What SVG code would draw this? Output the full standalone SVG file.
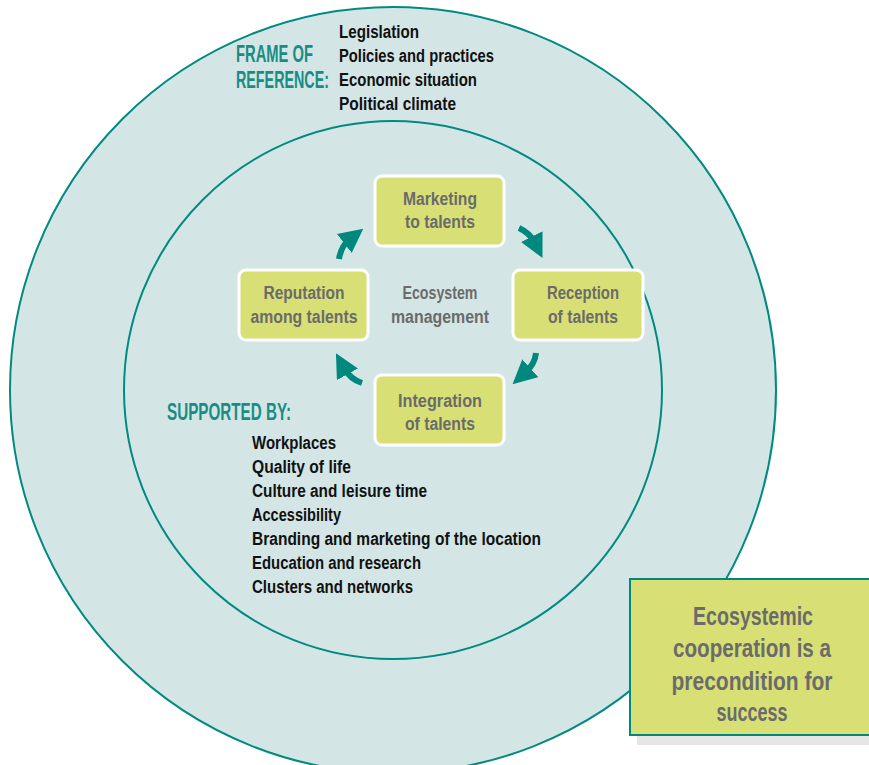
<svg xmlns="http://www.w3.org/2000/svg" width="869" height="765" viewBox="0 0 869 765">
  <defs>
    <style>
      .ring { fill: #d3e6e5; stroke: #008a80; stroke-width: 2; }
      .step rect { fill: #d8df74; stroke: #ffffff; stroke-width: 3; }
      .t { font-family: "Liberation Sans", Arial, sans-serif; font-weight: bold; }
      .grey { fill: #6b6b6b; font-size: 18px; text-anchor: middle; }
      .big { font-size: 25px; }
      .head { fill: #1b8c84; font-size: 23px; }
      .list { fill: #111111; font-size: 18px; }
      .flow { fill: none; stroke: #00877e; stroke-width: 6; marker-end: url(#tip); }
    </style>
    <marker id="tip" viewBox="0 0 10 10" refX="3" refY="5" markerWidth="4" markerHeight="4" markerUnits="strokeWidth" orient="auto">
      <path d="M0,0 L10,5 L0,10 Z" fill="#00877e"/>
    </marker>
  </defs>

  <!-- outer ring: frame of reference -->
  <g id="frame">
    <circle class="ring" cx="393" cy="390" r="383"/>
    <text class="t head" transform="translate(236,62) scale(0.64,1)" textLength="120.3" lengthAdjust="spacingAndGlyphs">FRAME OF</text>
    <text class="t head" transform="translate(236,88) scale(0.64,1)" textLength="145.3" lengthAdjust="spacingAndGlyphs">REFERENCE:</text>
    <text class="t list" x="339" y="38" textLength="80" lengthAdjust="spacingAndGlyphs">Legislation</text>
    <text class="t list" x="339" y="62" textLength="155" lengthAdjust="spacingAndGlyphs">Policies and practices</text>
    <text class="t list" x="339" y="86" textLength="138" lengthAdjust="spacingAndGlyphs">Economic situation</text>
    <text class="t list" x="339" y="110" textLength="117" lengthAdjust="spacingAndGlyphs">Political climate</text>
  </g>

  <!-- inner ring: supporting factors -->
  <g id="support">
    <circle class="ring" cx="393" cy="390" r="269"/>
    <text class="t head" transform="translate(167,420) scale(0.64,1)" textLength="193.7" lengthAdjust="spacingAndGlyphs">SUPPORTED BY:</text>
    <text class="t list" x="252" y="449" textLength="84" lengthAdjust="spacingAndGlyphs">Workplaces</text>
    <text class="t list" x="252" y="473" textLength="99" lengthAdjust="spacingAndGlyphs">Quality of life</text>
    <text class="t list" x="252" y="497" textLength="175" lengthAdjust="spacingAndGlyphs">Culture and leisure time</text>
    <text class="t list" x="252" y="521" textLength="89" lengthAdjust="spacingAndGlyphs">Accessibility</text>
    <text class="t list" x="252" y="545" textLength="289" lengthAdjust="spacingAndGlyphs">Branding and marketing of the location</text>
    <text class="t list" x="252" y="569" textLength="169" lengthAdjust="spacingAndGlyphs">Education and research</text>
    <text class="t list" x="252" y="593" textLength="161" lengthAdjust="spacingAndGlyphs">Clusters and networks</text>
  </g>

  <g id="ecosystem">
    <text class="t grey" x="440" y="299" textLength="75" lengthAdjust="spacingAndGlyphs">Ecosystem</text>
    <text class="t grey" x="440" y="323" textLength="98" lengthAdjust="spacingAndGlyphs">management</text>
  </g>

  <g id="marketing" class="step">
    <rect x="375" y="176" width="129" height="70" rx="7"/>
    <text class="t grey" x="440" y="205" textLength="74" lengthAdjust="spacingAndGlyphs">Marketing</text>
    <text class="t grey" x="440" y="228" textLength="70" lengthAdjust="spacingAndGlyphs">to talents</text>
  </g>

  <g id="reception" class="step">
    <rect x="513" y="270" width="130" height="70" rx="7"/>
    <text class="t grey" x="583" y="299" textLength="72" lengthAdjust="spacingAndGlyphs">Reception</text>
    <text class="t grey" x="583" y="323" textLength="70" lengthAdjust="spacingAndGlyphs">of talents</text>
  </g>

  <g id="integration" class="step">
    <rect x="375" y="375" width="129" height="70" rx="7"/>
    <text class="t grey" x="440" y="407" textLength="84" lengthAdjust="spacingAndGlyphs">Integration</text>
    <text class="t grey" x="440" y="430" textLength="70" lengthAdjust="spacingAndGlyphs">of talents</text>
  </g>

  <g id="reputation" class="step">
    <rect x="239" y="270" width="129" height="70" rx="7"/>
    <text class="t grey" x="304" y="299" textLength="81" lengthAdjust="spacingAndGlyphs">Reputation</text>
    <text class="t grey" x="304" y="323" textLength="107" lengthAdjust="spacingAndGlyphs">among talents</text>
  </g>

  <!-- cycle arrows -->
  <g id="connectors">
    <path class="flow" d="M339,259 Q341,246 350,239"/>
    <path class="flow" d="M519,228 Q530,233 535,243"/>
    <path class="flow" d="M536,353 Q535,364 525,373"/>
    <path class="flow" d="M362,383 Q350,379 344,368"/>
  </g>

  <!-- conclusion box -->
  <g id="conclusion">
    <rect x="637" y="587" width="240" height="158" fill="#e6e6e6"/>
    <rect x="630" y="579" width="245" height="156" fill="#d8df74" stroke="#00877e" stroke-width="2"/>
    <text class="t grey big" x="753" y="625" textLength="120" lengthAdjust="spacingAndGlyphs">Ecosystemic</text>
    <text class="t grey big" x="752" y="657" textLength="158" lengthAdjust="spacingAndGlyphs">cooperation is a</text>
    <text class="t grey big" x="752" y="690" textLength="161" lengthAdjust="spacingAndGlyphs">precondition for</text>
    <text class="t grey big" x="752" y="721" textLength="71" lengthAdjust="spacingAndGlyphs">success</text>
  </g>
</svg>
